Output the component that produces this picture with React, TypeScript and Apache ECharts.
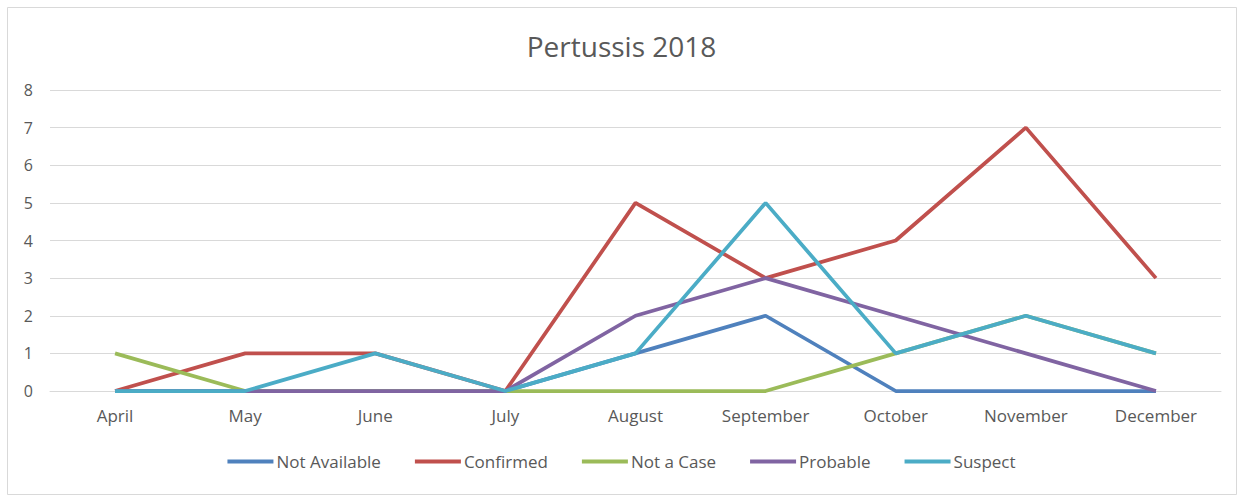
import React, { useEffect, useRef } from "react";
import * as echarts from "echarts";

const categories = ["April", "May", "June", "July", "August", "September", "October", "November", "December"];
const notAvailable = [0, 0, 0, 0, 1, 2, 0, 0, 0];
const confirmed = [0, 1, 1, 0, 5, 3, 4, 7, 3];
const notACase = [1, 0, 0, 0, 0, 0, 1, 2, 1];
const probable = [0, 0, 0, 0, 2, 3, 2, 1, 0];
const suspect = [0, 0, 1, 0, 1, 5, 1, 2, 1];
const seriesNames = ["Not Available", "Confirmed", "Not a Case", "Probable", "Suspect"];
const colors = ["#4F81BD", "#C0504D", "#9BBB59", "#8064A2", "#4BACC6"];

export default function App() {
  const ref = useRef<HTMLDivElement>(null);
  useEffect(() => {
    if (!ref.current) return;
    const chart = echarts.init(ref.current, null, { renderer: "svg" });
    const data = [notAvailable, confirmed, notACase, probable, suspect];
    chart.setOption({
      animation: false,
      backgroundColor: "#fff",
      color: colors,
      title: {
        text: "Pertussis 2018",
        left: "center",
        top: 27,
        textStyle: { fontFamily: "Open Sans", fontSize: 28, fontWeight: "normal", color: "#595959" },
      },
      graphic: [
        {
          type: "rect",
          shape: { x: 7.5, y: 7.5, width: 1229, height: 487 },
          style: { fill: "none", stroke: "#D9D9D9", lineWidth: 1 },
          silent: true,
        },
      ],
      legend: {
        bottom: 21,
        left: "center",
        itemWidth: 46,
        itemHeight: 4,
        itemGap: 34,
        icon: "rect",
        textStyle: { fontFamily: "Open Sans", fontSize: 17, color: "#595959", padding: [0, 0, 0, -2] },
        data: seriesNames,
      },
      grid: { left: 50, right: 22, top: 90, bottom: 105, containLabel: false },
      xAxis: {
        type: "category",
        data: categories,
        boundaryGap: true,
        axisLine: { lineStyle: { color: "#D9D9D9" } },
        axisTick: { show: false },
        axisLabel: { fontFamily: "Open Sans", fontSize: 17, color: "#595959", margin: 16 },
      },
      yAxis: {
        type: "value",
        min: 0,
        max: 8,
        interval: 1,
        axisLine: { show: false },
        axisTick: { show: false },
        splitLine: { lineStyle: { color: "#D9D9D9" } },
        axisLabel: { fontFamily: "Open Sans", fontSize: 16, color: "#595959", margin: 17 },
      },
      series: seriesNames.map((name, i) => ({
        name,
        type: "line",
        data: data[i],
        symbol: "none",
        lineStyle: { width: 3.75, color: colors[i] },
        itemStyle: { color: colors[i] },
      })),
    });
    return () => chart.dispose();
  }, []);
  return (
    <div
      ref={ref}
      style={{ position: "fixed", left: 0, top: 0, width: 1243, height: 496 }}
    />
  );
}
